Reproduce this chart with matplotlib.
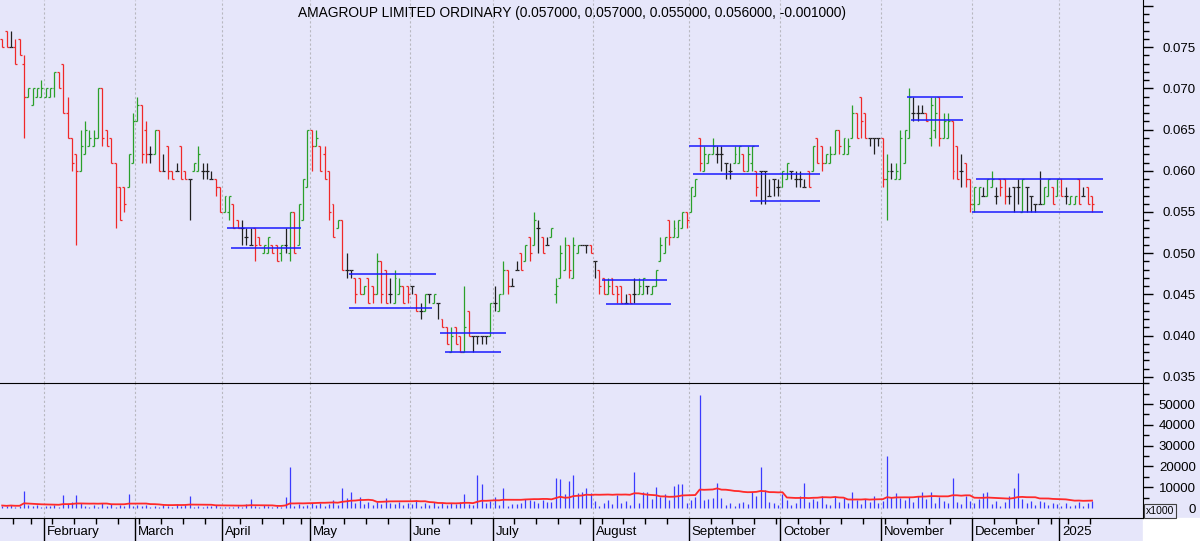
import matplotlib.pyplot as plt
import numpy as np
import pandas as pd
from matplotlib.collections import LineCollection
from matplotlib.patches import Rectangle
from matplotlib.transforms import blended_transform_factory

plt.rcParams['font.family'] = ['Liberation Sans', 'DejaVu Sans']

title = 'AMAGROUP LIMITED ORDINARY (0.057000, 0.057000, 0.055000, 0.056000, -0.001000)'

# daily bars, price in thousandths of a dollar: (open, high, low, close)
ohlc_jan24 = [(76, 76, 75, 75), (77, 77, 75, 75), (75, 77, 75, 75), (75, 76, 73, 73), (76, 76, 74, 74),
              (73, 74, 64, 69), (69, 70, 69, 70), (68, 70, 68, 70), (69, 70, 69, 70), (69, 71, 69, 70)]
ohlc_feb = [(69, 70, 69, 70), (69, 70, 69, 70), (70, 72, 69, 72), (72, 72, 70, 70), (73, 73, 67, 67),
            (67, 69, 64, 64), (64, 64, 60, 61), (62, 62, 51, 60), (60, 65, 60, 63), (62, 66, 62, 65),
            (63, 65, 63, 64), (63, 65, 63, 64), (64, 70, 64, 70), (70, 70, 63, 64), (65, 65, 63, 63),
            (64, 64, 61, 61), (61, 61, 53, 58), (58, 58, 54, 54), (58, 58, 55, 56), (58, 62, 58, 62),
            (61, 67, 61, 66)]
ohlc_mar = [(66, 69, 66, 68), (68, 68, 61, 62), (65, 66, 61, 62), (62, 63, 61, 62), (62, 65, 62, 65),
            (65, 65, 60, 60), (60, 62, 60, 60), (63, 63, 59, 60), (60, 60, 59, 59), (60, 61, 60, 60),
            (63, 63, 59, 59), (60, 60, 59, 59), (59, 59, 54, 59), (60, 61, 60, 61), (60, 63, 60, 62),
            (60, 61, 59, 60), (60, 61, 59, 60), (59, 60, 59, 59), (59, 59, 57, 58), (58, 58, 55, 55)]
ohlc_apr = [(55, 57, 55, 57), (55, 57, 54, 57), (56, 56, 53, 53), (54, 54, 53, 53), (53, 54, 51, 53),
            (52, 53, 51, 52), (51, 53, 51, 51), (53, 53, 49, 51), (52, 52, 51, 51), (50, 51, 50, 51),
            (50, 52, 50, 52), (51, 51, 50, 50), (51, 51, 49, 49), (50, 51, 49, 51), (51, 53, 50, 51),
            (50, 55, 49, 55), (55, 55, 50, 50), (51, 56, 51, 56), (54, 59, 54, 59), (58, 65, 58, 65)]
ohlc_may = [(65, 65, 60, 63), (63, 65, 63, 64), (63, 63, 60, 60), (62, 63, 59, 59), (60, 60, 54, 55),
            (56, 56, 52, 52), (53, 54, 53, 54), (54, 54, 48, 48), (48, 50, 47, 48), (48, 48, 47, 48),
            (47, 47, 44, 45), (47, 47, 45, 45), (45, 46, 45, 46), (47, 47, 44, 44), (46, 46, 44, 45),
            (45, 50, 45, 49), (49, 49, 44, 45), (48, 48, 44, 44), (45, 47, 44, 45), (44, 48, 44, 47),
            (45, 47, 45, 46), (46, 46, 44, 44), (46, 46, 44, 45)]
ohlc_jun = [(46, 46, 45, 46), (45, 45, 43, 43), (43, 44, 42, 43), (43, 45, 43, 45), (45, 45, 44, 45),
            (44, 45, 44, 45), (44, 44, 42, 44), (42, 42, 41, 41), (41, 41, 39, 39), (38, 41, 38, 40),
            (41, 41, 39, 39), (40, 40, 38, 38), (38, 46, 38, 41), (43, 43, 40, 40), (40, 40, 38, 40),
            (40, 40, 39, 40), (40, 40, 39, 40), (40, 40, 39, 40), (40, 44, 40, 44)]
ohlc_jul = [(44, 46, 43, 44), (43, 45, 43, 45), (45, 49, 45, 48), (48, 48, 45, 46), (46, 47, 46, 46),
            (48, 49, 48, 48), (50, 50, 48, 48), (49, 51, 49, 51), (52, 52, 49, 50), (51, 55, 51, 54),
            (53, 54, 50, 53), (52, 52, 50, 50), (51, 52, 51, 51), (52, 53, 52, 53), (45, 47, 44, 46),
            (47, 51, 47, 50), (48, 52, 48, 51), (51, 51, 47, 48), (47, 52, 47, 51), (50, 51, 50, 51),
            (51, 51, 51, 51), (51, 51, 50, 51), (51, 51, 50, 50)]
ohlc_aug = [(49, 49, 47, 49), (48, 48, 45, 46), (47, 47, 45, 45), (45, 47, 45, 46), (47, 47, 45, 45),
            (46, 46, 44, 45), (46, 46, 44, 44), (44, 45, 44, 44), (45, 45, 44, 44), (45, 47, 44, 45),
            (45, 47, 45, 46), (45, 47, 45, 47), (46, 46, 45, 46), (45, 46, 45, 46), (46, 48, 46, 48),
            (49, 52, 49, 51), (50, 52, 50, 52), (54, 54, 51, 52), (52, 54, 52, 53), (52, 54, 52, 54),
            (53, 55, 53, 55), (55, 55, 53, 54)]
ohlc_sep = [(55, 58, 55, 58), (57, 59, 57, 59), (64, 64, 60, 61), (60, 63, 60, 62), (61, 62, 61, 62),
            (62, 64, 62, 63), (62, 63, 61, 62), (62, 63, 60, 62), (61, 61, 59, 61), (60, 61, 59, 60),
            (61, 63, 61, 62), (61, 63, 61, 63), (62, 62, 60, 60), (60, 63, 60, 62), (61, 63, 60, 63),
            (60, 60, 57, 58), (60, 60, 56, 60), (60, 60, 56, 60), (57, 59, 57, 57), (59, 59, 57, 59),
            (58, 59, 57, 58)]
ohlc_oct = [(58, 60, 58, 60), (59, 61, 59, 61), (60, 60, 59, 60), (59, 60, 58, 59), (59, 60, 58, 59),
            (58, 59, 58, 58), (60, 60, 58, 58), (60, 63, 60, 63), (64, 64, 61, 61), (63, 63, 60, 61),
            (61, 62, 61, 62), (61, 63, 61, 62), (62, 65, 62, 65), (65, 65, 62, 63), (62, 64, 62, 64),
            (62, 64, 62, 63), (64, 68, 64, 67), (67, 67, 64, 64), (69, 69, 64, 66), (67, 67, 64, 64),
            (64, 64, 63, 64), (64, 64, 62, 64), (64, 64, 63, 64)]
ohlc_nov = [(64, 64, 58, 59), (59, 62, 54, 60), (60, 61, 59, 60), (59, 61, 59, 60), (59, 65, 59, 64),
            (61, 65, 61, 65), (64, 70, 64, 69), (67, 69, 66, 67), (67, 68, 66, 67), (67, 68, 67, 67),
            (67, 67, 66, 66), (64, 69, 63, 68), (65, 69, 64, 67), (69, 69, 63, 64), (64, 67, 64, 66),
            (64, 67, 64, 66), (66, 66, 59, 60), (63, 63, 59, 59), (60, 62, 58, 60), (61, 61, 58, 59),
            (59, 59, 55, 56)]
ohlc_dec = [(56, 58, 55, 58), (56, 58, 56, 58), (57, 58, 57, 57), (57, 59, 57, 59), (58, 60, 58, 59),
            (57, 58, 56, 57), (59, 59, 57, 58), (59, 59, 56, 57), (57, 58, 56, 57), (58, 58, 55, 58),
            (58, 59, 56, 58), (55, 59, 55, 59), (58, 58, 55, 58), (57, 57, 55, 57), (56, 56, 55, 56),
            (56, 60, 56, 56), (56, 58, 56, 58), (57, 59, 57, 59), (58, 58, 56, 56), (57, 59, 57, 59)]
ohlc_jan25 = [(59, 59, 57, 57), (57, 58, 56, 57), (56, 57, 56, 57), (56, 57, 56, 57), (59, 59, 56, 56),
              (57, 58, 57, 57), (58, 58, 56, 56), (57, 57, 55, 56)]

# daily volume (x1000 shares)
vol_jan24 = [1200, 900, 1500, 700, 1100, 8200, 1400, 900, 1300, 600]
vol_feb = [1200, 800, 1500, 600, 6200, 1900, 3000, 6200, 2500, 900, 700, 1300, 500, 2200, 1100, 1800,
           700, 1400, 1000, 6700, 1200]
vol_mar = [1300, 900, 1600, 700, 1200, 500, 1500, 1100, 600, 1800, 900, 1300, 5800, 700, 1000, 400,
           1200, 800, 1500, 600]
vol_apr = [500, 300, 700, 1200, 600, 1800, 4200, 800, 400, 1500, 900, 300, 1100, 600, 5400, 19500,
           1200, 2100, 800, 1600]
vol_may = [2200, 1500, 2600, 1200, 2000, 3800, 1600, 9500, 5000, 7500, 2300, 5100, 1800, 2700, 1400,
           3100, 2000, 4600, 2500, 1700, 2900, 1300, 2400]
vol_jun = [1900, 3800, 1200, 2400, 1600, 2800, 1000, 2200, 1500, 2600, 1800, 3000, 6700, 2100, 1400,
           15800, 11400, 2500, 3300]
vol_jul = [5100, 1500, 9500, 1200, 2000, 1800, 2600, 4200, 3700, 3300, 2400, 3900, 2800, 3000, 14300,
           14000, 6700, 13000, 15800, 7000, 7500, 9500, 7300]
vol_aug = [3500, 1200, 2600, 4000, 1800, 6200, 2300, 3400, 1500, 17100, 2200, 7800, 7800, 4100, 9900,
           5200, 6500, 3800, 10500, 11400, 11700, 2600]
vol_sep = [3800, 5200, 54300, 4000, 4400, 4600, 11800, 5000, 1600, 2600, 1200, 2200, 3000, 1800, 7500,
           6000, 19500, 8600, 3100, 2400, 1500]
vol_oct = [6500, 3800, 1500, 2400, 5600, 11800, 3000, 4200, 3400, 5900, 2000, 1300, 6000, 2700, 4600,
           2200, 7500, 3900, 1700, 4400, 3000, 5800, 2400]
vol_nov = [3600, 25000, 5200, 7000, 4800, 3900, 5400, 3100, 6000, 7500, 4200, 7500, 2500, 5400, 3400,
           2200, 14600, 2800, 2000, 6000, 3200]
vol_dec = [2400, 4100, 7000, 7500, 1900, 3600, 1200, 2800, 5900, 9600, 17000, 4300, 2600, 3400, 1500,
           3200, 2800, 1400, 2200, 1700]
vol_jan25 = [1200, 2300, 800, 1500, 2800, 900, 2600, 3500]

# support / resistance lines: (first bar, last bar, price)
levels = [(52, 68, 0.0530), (53, 68, 0.0506),
          (80, 99, 0.0475), (80, 98, 0.0434),
          (101, 115, 0.0403), (102, 114, 0.0380),
          (138, 152, 0.0468), (139, 153, 0.04385),
          (158, 173, 0.0630), (159, 187, 0.0596), (172, 187, 0.0563),
          (208, 220, 0.0690), (209, 220, 0.0662),
          (224, 252, 0.0590), (223, 252, 0.0550)]

holidays = ['2024-01-26', '2024-03-29', '2024-04-01', '2024-04-25', '2024-06-10',
            '2024-12-25', '2024-12-26', '2025-01-01']

ohlc = np.array(ohlc_jan24 + ohlc_feb + ohlc_mar + ohlc_apr + ohlc_may + ohlc_jun + ohlc_jul
                + ohlc_aug + ohlc_sep + ohlc_oct + ohlc_nov + ohlc_dec + ohlc_jan25) / 1000
vol = np.array(vol_jan24 + vol_feb + vol_mar + vol_apr + vol_may + vol_jun + vol_jul
               + vol_aug + vol_sep + vol_oct + vol_nov + vol_dec + vol_jan25)
n = len(ohlc)
x = np.arange(n)

days = pd.bdate_range('2024-01-17', '2025-02-28')
days = days[~days.isin(pd.to_datetime(holidays))][:n]

month_start = [i for i in range(1, n) if days[i].month != days[i - 1].month]
week_start = [i for i in range(1, n) if days[i].weekday() < days[i - 1].weekday() and i not in month_start]
month_names = [days[i].strftime('%B') if days[i].month != 1 else str(days[i].year) for i in month_start]

bg = '#e6e6fa'
fig = plt.figure(figsize=(12, 5.41), dpi=100, facecolor=bg)
ax = fig.add_axes([0, 1 - 383 / 541, 1143 / 1200, 383 / 541], facecolor=bg)
axv = fig.add_axes([0, 23 / 541, 1143 / 1200, 135 / 541], facecolor=bg, sharex=ax)
ax.set_zorder(3)

# OHLC bars
o, h, l, c = ohlc.T
segs, cols = [], []
for i in range(n):
    col = '#2aa02a' if c[i] > o[i] else ('#f02828' if c[i] < o[i] else '#202020')
    segs += [[(i, l[i]), (i, h[i])], [(i - 0.45, o[i]), (i, o[i])], [(i, c[i]), (i + 0.45, c[i])]]
    cols += [col] * 3
ax.add_collection(LineCollection(segs, colors=cols, linewidths=0.9))

for a, b, p in levels:
    ax.hlines(p, a - 0.5, b + 0.5, color='#1a1aff', lw=1.1)

# volume + moving average
axv.vlines(x, 0, vol, color='#3a3aff', lw=0.9)
ma = pd.Series(vol).rolling(20, min_periods=1).mean()
axv.plot(x, ma, color='#ff2a2a', lw=1.3)

for a in (ax, axv):
    for i in month_start:
        a.axvline(i - 0.5, color='#b8b8c0', lw=0.8, ls=(0, (2, 2)), zorder=0)
    a.spines['left'].set_visible(False)
    a.spines['top'].set_visible(False)
    a.spines['bottom'].set_color('black')
    a.spines['right'].set_color('black')
    a.yaxis.tick_right()
    a.tick_params(axis='y', which='major', direction='out', length=7, width=1, labelsize=9.5, pad=31)
    a.tick_params(axis='y', which='minor', direction='out', length=4, width=1)
    for t in a.get_yticklabels():
        t.set_horizontalalignment('right')

ax.set_xlim(-0.5, 261.7)
ax.set_ylim(0.03427, 0.0807)
ax.set_yticks(np.arange(0.035, 0.0801, 0.005))
ax.set_yticklabels(['%.3f' % v if v < 0.0776 else '' for v in np.arange(0.035, 0.0801, 0.005)], ha='right')
ax.set_yticks(np.arange(0.035, 0.0806, 0.001), minor=True)
ax.tick_params(axis='x', which='both', bottom=False, labelbottom=False)

axv.set_ylim(-4800, 60100)
axv.set_yticks(np.arange(0, 50001, 10000))
axv.set_yticklabels([str(v) for v in range(0, 50001, 10000)], ha='right')
axv.set_yticks(np.arange(0, 60001, 5000), minor=True)
axv.set_xticks([i - 0.5 for i in month_start])
axv.set_xticks([i - 0.5 for i in week_start], minor=True)
axv.tick_params(axis='x', which='major', direction='out', length=17, width=1, labelbottom=False)
axv.tick_params(axis='x', which='minor', direction='out', length=4, width=1)

tr = blended_transform_factory(axv.transData, axv.transAxes)
for i, name in zip(month_start, month_names):
    axv.text(i + 0.2, -0.105, name, transform=tr, ha='left', va='center', fontsize=9.5)

ax.text(0.5, 1 - 13 / 383, title, transform=ax.transAxes, ha='center', va='center', fontsize=9.9)

fig.text(1146 / 1200, 1 - 511 / 541, 'x1000', fontsize=7.5, va='center', ha='left',
         bbox=dict(boxstyle='square,pad=0.15', fc=bg, ec='#404040', lw=0.8))
fig.add_artist(Rectangle((1143 / 1200, 0), 57 / 1200, 23 / 541, transform=fig.transFigure,
                         color='white', zorder=0))

plt.savefig('out.png', dpi=100)
